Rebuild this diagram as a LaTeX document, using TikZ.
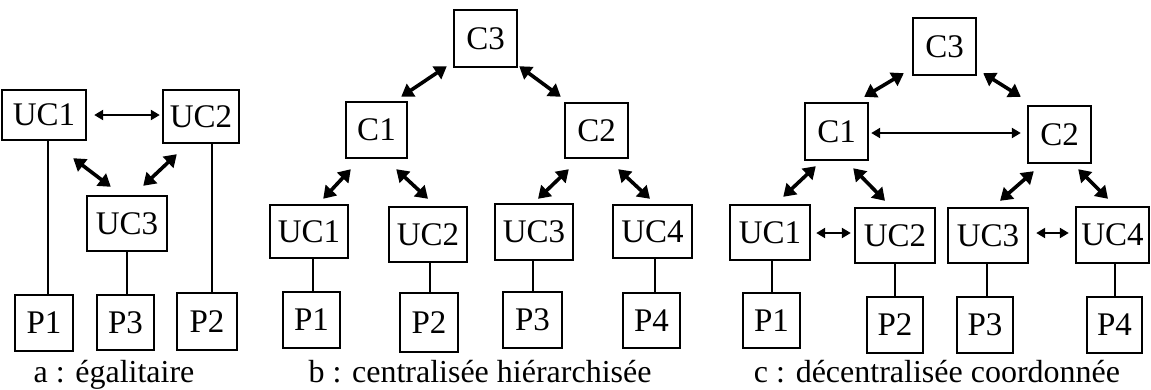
\documentclass[tikz,border=0pt]{standalone}
\usepackage{fontspec}
\setmainfont{Liberation Serif}
\usetikzlibrary{arrows.meta}
\begin{document}
\begin{tikzpicture}[x=1pt,y=-1pt,
  box/.style={draw,line width=2.4pt,inner sep=0pt,font=\fontsize{33}{36}\selectfont},
  bi/.style={line width=3.6pt,{Triangle[length=12pt,width=15pt]}-{Triangle[length=12pt,width=15pt]}},
  bithin/.style={line width=2.2pt,{Triangle[length=9pt,width=10pt]}-{Triangle[length=9pt,width=10pt]}},
  wire/.style={line width=2.2pt},
  captext/.style={anchor=base,inner sep=0pt,font=\fontsize{32}{36}\selectfont}]
\useasboundingbox (0,0) rectangle (1151,389);
% ---------- panel a ----------
\node[box,minimum width=84pt,minimum height=50pt] (aUC1) at (44,115) {UC1};
\node[box,minimum width=76pt,minimum height=53pt] (aUC2) at (201,116.5) {UC2};
\node[box,minimum width=80pt,minimum height=55pt] (aUC3) at (127,223.5) {UC3};
\node[box,minimum width=58pt,minimum height=56pt] (aP1) at (44,323) {P1};
\node[box,minimum width=57pt,minimum height=55pt] (aP3) at (125.5,322.5) {P3};
\node[box,minimum width=60pt,minimum height=57pt] (aP2) at (207,321.5) {P2};
\draw[bithin] ([xshift=7pt]aUC1.east) -- ([xshift=-2pt]aUC2.west |- aUC1.east);
\draw[bi] ([shift={(-14,17)}]aUC1.south east) -- ([shift={(25,-8)}]aUC3.north west);
\draw[bi] ([shift={(15,10)}]aUC2.south west) -- ([shift={(-25,-9)}]aUC3.north east);
\draw[wire] ([xshift=4pt]aUC1.south) -- ([xshift=4pt]aUC1.south |- aP1.north);
\draw[wire] ([xshift=11pt]aUC2.south) -- ([xshift=11pt]aUC2.south |- aP2.north);
\draw[wire] (aUC3.south) -- (aUC3.south |- aP3.north);
\node[captext] (capa) at (114,382) {a : égalitaire};
% ---------- panel b ----------
\node[box,minimum width=63pt,minimum height=57pt] (bC3) at (485.5,38.5) {C3};
\node[box,minimum width=61pt,minimum height=56pt] (bC1) at (376.5,130) {C1};
\node[box,minimum width=63pt,minimum height=55pt] (bC2) at (596.5,130.5) {C2};
\node[box,minimum width=78pt,minimum height=53pt] (bUC1) at (309,231.5) {UC1};
\node[box,minimum width=78pt,minimum height=55pt] (bUC2) at (428,234.5) {UC2};
\node[box,minimum width=78pt,minimum height=56pt] (bUC3) at (534,232) {UC3};
\node[box,minimum width=79pt,minimum height=53pt] (bUC4) at (652.5,231.5) {UC4};
\node[box,minimum width=57pt,minimum height=56pt] (bP1) at (311.5,320) {P1};
\node[box,minimum width=58pt,minimum height=59pt] (bP2) at (429,322.5) {P2};
\node[box,minimum width=59pt,minimum height=56pt] (bP3) at (532.5,320) {P3};
\node[box,minimum width=57pt,minimum height=55pt] (bP4) at (651.5,320.5) {P4};
\draw[bi] ([shift={(-6,-2)}]bC3.south west) -- ([shift={(-7,-4)}]bC1.north east);
\draw[bi] ([shift={(1,-2)}]bC3.south east) -- ([shift={(-3,-5)}]bC2.north west);
\draw[bi] ([shift={(6,10)}]bC1.south west) -- ([shift={(-26,-5)}]bUC1.north east);
\draw[bi] ([shift={(-12,10)}]bC1.south east) -- ([shift={(0,-7)}]bUC2.north);
\draw[bi] ([shift={(5,10)}]bC2.south west) -- ([shift={(4,-4)}]bUC3.north);
\draw[bi] ([shift={(-11,10)}]bC2.south east) -- ([shift={(-2.5,-5)}]bUC4.north);
\draw[wire] ([xshift=4pt]bUC1.south) -- ([xshift=4pt]bUC1.south |- bP1.north);
\draw[wire] ([xshift=2pt]bUC2.south) -- ([xshift=2pt]bUC2.south |- bP2.north);
\draw[wire] ([xshift=-1pt]bUC3.south) -- ([xshift=-1pt]bUC3.south |- bP3.north);
\draw[wire] ([xshift=2.5pt]bUC4.south) -- ([xshift=2.5pt]bUC4.south |- bP4.north);
\node[captext] (capb) at (480,382) {b : centralisée hiérarchisée};
% ---------- panel c ----------
\node[box,minimum width=63pt,minimum height=57pt] (cC3) at (944.5,46.5) {C3};
\node[box,minimum width=63pt,minimum height=57pt] (cC1) at (836.5,131.5) {C1};
\node[box,minimum width=63pt,minimum height=57pt] (cC2) at (1059.5,134.5) {C2};
\node[box,minimum width=80pt,minimum height=55pt] (cUC1) at (770,232.5) {UC1};
\node[box,minimum width=80pt,minimum height=55pt] (cUC2) at (895,235.5) {UC2};
\node[box,minimum width=80pt,minimum height=55pt] (cUC3) at (988,235.5) {UC3};
\node[box,minimum width=73pt,minimum height=56pt] (cUC4) at (1112.5,235) {UC4};
\node[box,minimum width=57pt,minimum height=55pt] (cP1) at (771.5,320.5) {P1};
\node[box,minimum width=56pt,minimum height=56pt] (cP2) at (895,325) {P2};
\node[box,minimum width=56pt,minimum height=56pt] (cP3) at (985,325) {P3};
\node[box,minimum width=55pt,minimum height=56pt] (cP4) at (1114.5,325) {P4};
\draw[bi] ([shift={(-8,-3)}]cC3.south west) -- ([shift={(-5,-5)}]cC1.north east);
\draw[bi] ([shift={(6,-3)}]cC3.south east) -- ([shift={(-6,-8)}]cC2.north west);
\draw[bithin] ([shift={(2,1.5)}]cC1.east) -- ([shift={(-6,-1.5)}]cC2.west);
\draw[bi] ([shift={(12,5)}]cC1.south west) -- ([shift={(-28,-7)}]cUC1.north east);
\draw[bi] ([shift={(-16,7)}]cC1.south east) -- ([shift={(-10,-6)}]cUC2.north);
\draw[bi] ([shift={(7,7)}]cC2.south west) -- ([shift={(12,-6)}]cUC3.north);
\draw[bi] ([shift={(-14,5)}]cC2.south east) -- ([shift={(-4.5,-7)}]cUC4.north);
\draw[bithin] ([shift={(5,0.5)}]cUC1.east) -- ([shift={(-3,-2.5)}]cUC2.west);
\draw[bithin] ([shift={(7,-2.5)}]cUC3.east) -- ([shift={(-6,-2)}]cUC4.west);
\draw[wire] ([xshift=2pt]cUC1.south) -- ([xshift=2pt]cUC1.south |- cP1.north);
\draw[wire] (cUC2.south) -- (cUC2.south |- cP2.north);
\draw[wire] ([xshift=-1pt]cUC3.south) -- ([xshift=-1pt]cUC3.south |- cP3.north);
\draw[wire] ([xshift=2.5pt]cUC4.south) -- ([xshift=2.5pt]cUC4.south |- cP4.north);
\node[captext] (capc) at (937,382) {c : décentralisée coordonnée};
\end{tikzpicture}
\end{document}
